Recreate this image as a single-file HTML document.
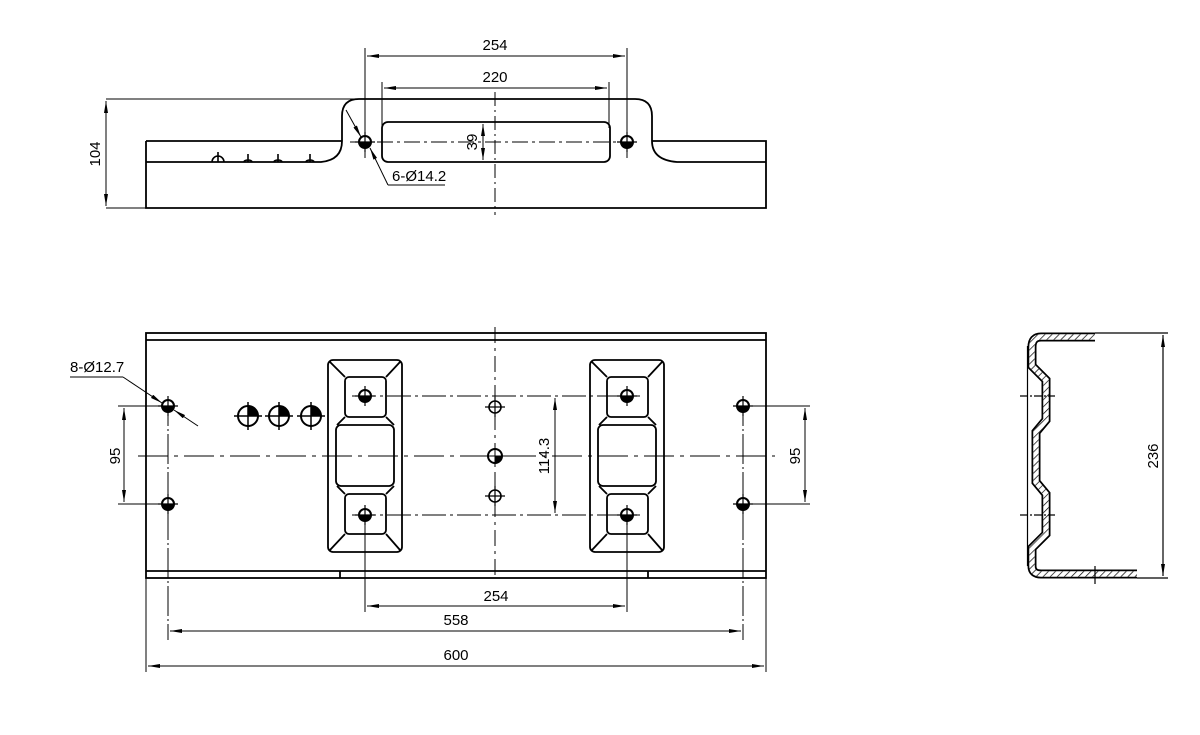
<!DOCTYPE html>
<html><head><meta charset="utf-8"><style>
html,body{margin:0;padding:0;background:#fff}
svg{display:block}
text{font-family:"Liberation Sans Narrow","Liberation Sans",sans-serif;font-size:15px;fill:#000}
</style></head><body>
<svg width="1200" height="735" viewBox="0 0 1200 735" xmlns="http://www.w3.org/2000/svg">
<defs>
<marker id="a" viewBox="0 0 12 4" refX="12" refY="2" markerWidth="12" markerHeight="4" markerUnits="userSpaceOnUse" orient="auto-start-reverse"><path d="M0,0 L12,2 L0,4 z" fill="#000"/></marker>
<pattern id="hatch" width="5" height="5" patternUnits="userSpaceOnUse" patternTransform="rotate(45)"><line x1="0" y1="0" x2="0" y2="5" stroke="#000" stroke-width="1.4"/></pattern>
<g id="h"><circle r="6" fill="#fff" stroke="#000" stroke-width="2"/><path d="M0,0 L6,0 A6,6 0 0 1 0,6 z" fill="#000"/><path d="M0,0 L-6,0 A6,6 0 0 0 0,6 z" fill="#000"/><line x1="-10" y1="0" x2="10" y2="0" stroke="#000" stroke-width="1.2"/><line x1="0" y1="-10" x2="0" y2="10" stroke="#000" stroke-width="1.2"/></g>
<g id="hb"><circle r="10" fill="#fff" stroke="#000" stroke-width="2"/><path d="M0,0 L0,-10 A10,10 0 0 1 10,0 z" fill="#000"/><line x1="-14" y1="0" x2="14" y2="0" stroke="#000" stroke-width="1.5"/><line x1="0" y1="-14" x2="0" y2="14" stroke="#000" stroke-width="1.5"/></g>
<g id="hs"><circle r="6" fill="#fff" stroke="#000" stroke-width="1.6"/><line x1="-10" y1="0" x2="10" y2="0" stroke="#000" stroke-width="1.2"/><line x1="0" y1="-10" x2="0" y2="10" stroke="#000" stroke-width="1.2"/></g>
<g id="pad" fill="none" stroke="#000" stroke-width="1.8">
<rect x="-37" y="-96" width="74" height="192" rx="5"/>
<rect x="-20" y="-79" width="41" height="40" rx="4"/>
<rect x="-20" y="38" width="41" height="40" rx="4"/>
<rect x="-29" y="-31" width="58" height="61" rx="5"/>
<path d="M-35,-94 L-20,-79 M35,-94 L21,-79 M-35,94 L-20,78 M35,94 L21,78 M-20,-39 L-28,-31 M21,-39 L29,-31 M-20,38 L-28,30 M21,38 L29,30"/>
</g>
</defs>
<g fill="none" stroke="#000" stroke-width="1.8">
<path d="M146,141 L146,208 L766,208 L766,141 L652,141 M146,141 L342,141 M146,162 L321,162 Q342,160 342,141 L342,116 Q342,99 359,99 L635,99 Q652,99 652,116 L652,141 Q652,160 677,162 L766,162"/>
<rect x="382" y="122" width="228" height="40" rx="6"/>
</g>
<g stroke="#000" stroke-width="1" fill="none">
<line x1="106" y1="99" x2="359" y2="99"/><line x1="106" y1="208" x2="146" y2="208"/>
<line x1="106" y1="101" x2="106" y2="206" marker-start="url(#a)" marker-end="url(#a)"/>
<line x1="365" y1="48" x2="365" y2="158"/><line x1="627" y1="48" x2="627" y2="158"/>
<line x1="367" y1="56" x2="625" y2="56" marker-start="url(#a)" marker-end="url(#a)"/>
<line x1="382" y1="82" x2="382" y2="128"/><line x1="609" y1="82" x2="609" y2="128"/>
<line x1="384" y1="88" x2="607" y2="88" marker-start="url(#a)" marker-end="url(#a)"/>
<line x1="483" y1="124" x2="483" y2="160" marker-start="url(#a)" marker-end="url(#a)"/>
<line x1="495" y1="92" x2="495" y2="215" stroke-dasharray="14,4,2,4"/>
<line x1="350" y1="142" x2="640" y2="142" stroke-dasharray="16,4,3,4"/>
<line x1="346" y1="110" x2="361" y2="137" marker-end="url(#a)"/>
<line x1="388" y1="185" x2="370" y2="148" marker-end="url(#a)"/>
<line x1="388" y1="185" x2="445" y2="185"/>
</g>
<use href="#h" x="365" y="142"/><use href="#h" x="627" y="142"/>
<g stroke="#000" stroke-width="1.6" fill="none">
<path d="M212,162 A6,6 0 0 1 224,162 M218,152 L218,162"/>
<path d="M244,162 A4,2 0 0 1 252,162 M248,154 L248,162"/>
<path d="M274,162 A4,2 0 0 1 282,162 M278,154 L278,162"/>
<path d="M306,162 A4,2 0 0 1 314,162 M310,154 L310,162"/>
</g>
<text x="495" y="50" text-anchor="middle">254</text>
<text x="495" y="82" text-anchor="middle">220</text>
<text transform="translate(100,154) rotate(-90)" text-anchor="middle">104</text>
<text transform="translate(477,142) rotate(-90)" text-anchor="middle">39</text>
<text x="392" y="181">6-Ø14.2</text>

<g fill="none" stroke="#000" stroke-width="1.8">
<rect x="146" y="333" width="620" height="245"/>
<line x1="146" y1="340" x2="766" y2="340"/>
<line x1="146" y1="571" x2="766" y2="571"/>
<line x1="340" y1="571" x2="340" y2="578"/><line x1="648" y1="571" x2="648" y2="578"/>
</g>
<use href="#pad" x="365" y="456"/><use href="#pad" x="627" y="456"/>
<g stroke="#000" stroke-width="1" fill="none">
<line x1="138" y1="456" x2="775" y2="456" stroke-dasharray="30,6,4,6"/>
<line x1="495" y1="327" x2="495" y2="580" stroke-dasharray="16,5,3,5"/>
<line x1="352" y1="396" x2="640" y2="396" stroke-dasharray="24,4,3,4"/>
<line x1="352" y1="515" x2="640" y2="515" stroke-dasharray="24,4,3,4"/>
<line x1="168" y1="396" x2="168" y2="640" stroke-dasharray="30,3,2,3"/>
<line x1="743" y1="396" x2="743" y2="640" stroke-dasharray="30,3,2,3"/>
<line x1="365" y1="515" x2="365" y2="612"/><line x1="627" y1="515" x2="627" y2="612"/>
<line x1="146" y1="578" x2="146" y2="672"/><line x1="766" y1="578" x2="766" y2="672"/>
<line x1="118" y1="406" x2="176" y2="406"/><line x1="118" y1="504" x2="176" y2="504"/>
<line x1="124" y1="408" x2="124" y2="502" marker-start="url(#a)" marker-end="url(#a)"/>
<line x1="735" y1="406" x2="810" y2="406"/><line x1="735" y1="504" x2="810" y2="504"/>
<line x1="805" y1="408" x2="805" y2="502" marker-start="url(#a)" marker-end="url(#a)"/>
<line x1="555" y1="398" x2="555" y2="513" marker-start="url(#a)" marker-end="url(#a)"/>
<line x1="367" y1="606" x2="625" y2="606" marker-start="url(#a)" marker-end="url(#a)"/>
<line x1="170" y1="631" x2="741" y2="631" marker-start="url(#a)" marker-end="url(#a)"/>
<line x1="148" y1="666" x2="764" y2="666" marker-start="url(#a)" marker-end="url(#a)"/>
<line x1="70" y1="377" x2="123" y2="377"/>
<line x1="123" y1="377" x2="162" y2="403" marker-end="url(#a)"/>
<line x1="198" y1="426" x2="174" y2="410" marker-end="url(#a)"/>
</g>
<use href="#h" x="168" y="406"/><use href="#h" x="168" y="504"/>
<use href="#h" x="743" y="406"/><use href="#h" x="743" y="504"/>
<use href="#h" x="365" y="396"/><use href="#h" x="365" y="515"/>
<use href="#h" x="627" y="396"/><use href="#h" x="627" y="515"/>
<use href="#hs" x="495" y="407"/><use href="#hs" x="495" y="496"/>
<g><circle cx="495" cy="456" r="7" fill="#fff" stroke="#000" stroke-width="2"/><path d="M495,456 L502,456 A7,7 0 0 1 495,463 z" fill="#000"/><line x1="484" y1="456" x2="506" y2="456" stroke="#000"/><line x1="495" y1="445" x2="495" y2="467" stroke="#000"/></g>
<use href="#hb" x="248" y="416"/><use href="#hb" x="279" y="416"/><use href="#hb" x="311" y="416"/>
<text x="70" y="372">8-Ø12.7</text>
<text transform="translate(120,456) rotate(-90)" text-anchor="middle">95</text>
<text transform="translate(800,456) rotate(-90)" text-anchor="middle">95</text>
<text transform="translate(549,456) rotate(-90)" text-anchor="middle">114.3</text>
<text x="496" y="601" text-anchor="middle">254</text>
<text x="456" y="625" text-anchor="middle">558</text>
<text x="456" y="660" text-anchor="middle">600</text>

<g fill="none">
<path d="M1095,337 L1041,337 Q1032,337 1032,347 L1032,366 L1046,380 L1046,420 L1036,432 L1036,482 L1046,494 L1046,534 L1032,548 L1032,566 Q1032,574 1041,574 L1137,574" stroke="#000" stroke-width="9"/>
<path d="M1095,337 L1041,337 Q1032,337 1032,347 L1032,366 L1046,380 L1046,420 L1036,432 L1036,482 L1046,494 L1046,534 L1032,548 L1032,566 Q1032,574 1041,574 L1137,574" stroke="#fff" stroke-width="5.5"/>
<path d="M1095,337 L1041,337 Q1032,337 1032,347 L1032,366 L1046,380 L1046,420 L1036,432 L1036,482 L1046,494 L1046,534 L1032,548 L1032,566 Q1032,574 1041,574 L1137,574" stroke="url(#hatch)" stroke-width="5.5"/>
</g>
<g stroke="#000" stroke-width="1.2" fill="none">
<line x1="1027.5" y1="346" x2="1027.5" y2="566"/>
<line x1="1095" y1="333" x2="1168" y2="333"/><line x1="1137" y1="578" x2="1168" y2="578"/>
<line x1="1163" y1="335" x2="1163" y2="576" marker-start="url(#a)" marker-end="url(#a)"/>
<line x1="1020" y1="396" x2="1055" y2="396" stroke-dasharray="8,2,2,2"/>
<line x1="1020" y1="515" x2="1055" y2="515" stroke-dasharray="8,2,2,2"/>
<line x1="1095" y1="566" x2="1095" y2="584"/>
</g>
<text transform="translate(1158,456) rotate(-90)" text-anchor="middle">236</text>
</svg>
</body></html>
